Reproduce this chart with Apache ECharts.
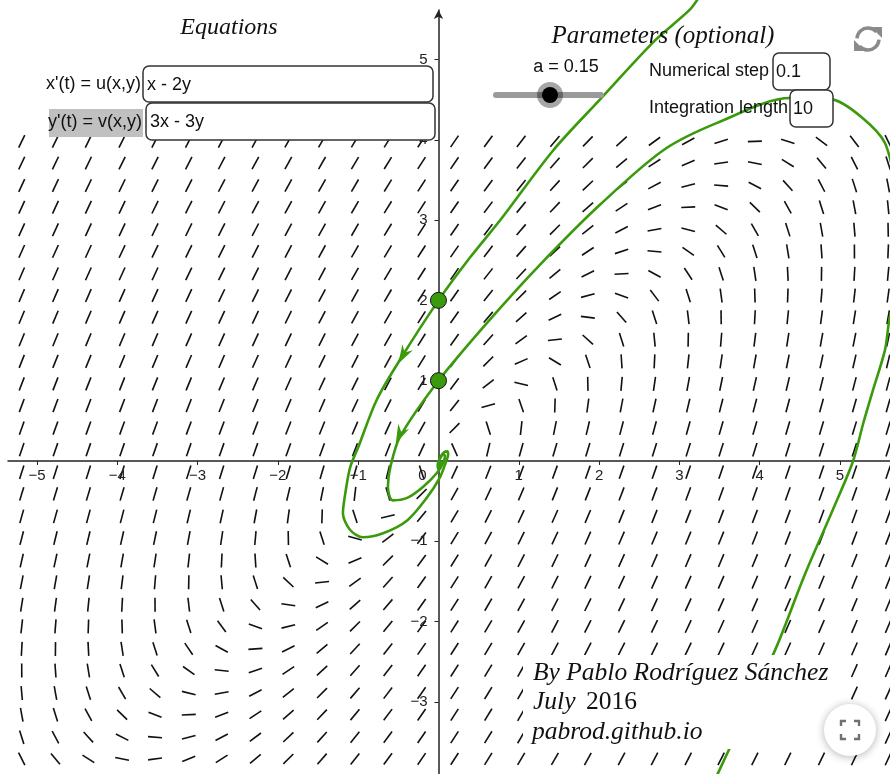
<!DOCTYPE html>
<html>
<head>
<meta charset="utf-8">
<script src="https://cdn.jsdelivr.net/npm/echarts@6/dist/echarts.min.js"></script>
<style>
html, body { margin: 0; padding: 0; background: #fff; }
#phase { width: 890px; height: 774px; }
</style>
</head>
<body>
<div id="phase"></div>
<script>
// grid of the slope field (where the little segments sit)
var fieldX = [-5.19, -4.77, -4.36, -3.94, -3.53, -3.11, -2.70, -2.28, -1.87, -1.45, -1.04, -0.63, -0.21,
    0.20, 0.62, 1.03, 1.45, 1.86, 2.28, 2.69, 3.11, 3.52, 3.94, 4.35, 4.77, 5.18, 5.60];
var fieldY = [3.98, 3.71, 3.43, 3.16, 2.88, 2.61, 2.33, 2.06, 1.79, 1.51, 1.24, 0.96, 0.69, 0.41, 0.14,
    -0.14, -0.41, -0.69, -0.96, -1.24, -1.51, -1.79, -2.06, -2.34, -2.61, -2.89, -3.16, -3.44, -3.71];

// the two equations typed in the boxes: x'(t) = x - 2y, y'(t) = 3x - 3y
function u(x, y) { return x - 2 * y; }
function v(x, y) { return 3 * x - 3 * y; }

// trajectory through (0, 2)
var orbitA = [[3.26, 5.80], [3.13, 5.62], [2.70, 5.24], [2.01, 4.50], [1.43, 3.87], [0.77, 3.00],
    [0.39, 2.53], [0, 2], [-0.48, 1.26], [-0.77, 0.76], [-1.00, 0.17], [-1.10, -0.08], [-1.16, -0.40],
    [-1.19, -0.65], [-1.10, -0.86], [-0.94, -0.95], [-0.69, -0.90], [-0.39, -0.74], [-0.14, -0.45],
    [0.02, -0.20], [0.09, -0.02], [0.12, 0.08], [0.11, 0.12], [0.07, 0.11], [0.02, 0.04],
    [-0.01, -0.05], [0.00, -0.10], [0.02, -0.08], [0.03, -0.03], [0.02, 0.00]];

// trajectory through (0, 1)
var orbitB = [[3.44, -3.97], [3.48, -3.89], [3.82, -3.16], [4.22, -2.29], [4.56, -1.42], [4.91, -0.61],
    [5.16, -0.01], [5.29, 0.47], [5.41, 0.88], [5.56, 1.38], [5.62, 1.79], [5.72, 2.13], [5.77, 2.75],
    [5.70, 3.38], [5.56, 3.96], [5.27, 4.28], [4.91, 4.50], [4.38, 4.52], [3.47, 4.21], [2.80, 3.87],
    [2.01, 3.19], [1.26, 2.44], [0.64, 1.76], [0, 1], [-0.48, 0.30], [-0.60, -0.08], [-0.63, -0.32],
    [-0.57, -0.49], [-0.39, -0.46], [-0.19, -0.32], [-0.02, -0.15], [0.06, -0.02], [0.08, 0.06],
    [0.06, 0.09], [0.03, 0.05], [0.00, -0.02], [0.01, -0.06], [0.02, -0.03], [0.01, 0.00]];

var startPoints = [[0, 2], [0, 1]];
// arrow heads: position and direction of travel
var arrowPoints = [[-0.44, 1.32, -0.50, -0.87], [-0.48, 0.33, -0.42, -0.91]];

var xTickValues = [-5, -4, -3, -2, -1, 1, 2, 3, 4, 5];
var yTickValues = [-3, -2, -1, 1, 2, 3, 4, 5];

var green = '#3a9a0c';

var fieldData = [];
fieldX.forEach(function (x) {
    fieldY.forEach(function (y) {
        fieldData.push([x, y]);
    });
});

// [x, y, text, dx, dy, align] for every axis number
var tickData = [];
xTickValues.forEach(function (t) { tickData.push([t, 0, t, 0, 15, 'center']); });
yTickValues.forEach(function (t) { tickData.push([0, t, t, -11, 0, 'right']); });
tickData.push([0, 0, 0, -16, 15, 'center']);

function minusSign(val) {
    return String(val).replace('-', '\u2212');
}

function label(x, y, text, font, align) {
    return {
        type: 'text', x: x, y: y, z: 101,
        style: {
            text: text, font: font, fill: '#111',
            align: align, verticalAlign: 'middle',
            textAlign: align, textVerticalAlign: 'middle'
        }
    };
}

function box(x, y, w, h) {
    return {
        type: 'rect', z: 100, shape: { x: x, y: y, width: w, height: h, r: 6 },
        style: { fill: '#fff', stroke: '#333', lineWidth: 1.5 }
    };
}

var sans = '18px "Liberation Sans"';
var serifIt = 'italic 24px "Liberation Serif"';
var creditIt = 'italic 25.5px "Liberation Serif"';

var chart = echarts.init(document.getElementById('phase'));

var option = {
    backgroundColor: '#fff',
    animation: false,
    grid: { left: 8, right: 0, top: 10, bottom: 0, outerBoundsMode: 'none', containLabel: false },
    xAxis: {
        type: 'value',
        min: -5.361,
        max: 5.623,
        axisLine: { onZero: true, lineStyle: { color: '#222', width: 1.5 } },
        axisTick: { customValues: xTickValues, length: 4, lineStyle: { color: '#222' } },
        axisLabel: { show: false },
        splitLine: { show: false }
    },
    yAxis: {
        type: 'value',
        min: -3.898,
        max: 5.616,
        axisLine: {
            onZero: true,
            symbol: ['none', 'arrow'],
            symbolSize: [7, 9],
            lineStyle: { color: '#222', width: 1.5 }
        },
        axisTick: { customValues: yTickValues, length: 4, lineStyle: { color: '#222' } },
        axisLabel: { show: false },
        splitLine: { show: false }
    },
    series: [
        {
            type: 'custom',
            data: fieldData,
            silent: true,
            renderItem: function (params, api) {
                var x = api.value(0), y = api.value(1);
                var p = api.coord([x, y]);
                var a = u(x, y), b = v(x, y);
                var n = Math.sqrt(a * a + b * b) || 1;
                var dx = a / n * 7, dy = -b / n * 7;
                return {
                    type: 'line',
                    shape: { x1: p[0] - dx, y1: p[1] - dy, x2: p[0] + dx, y2: p[1] + dy },
                    style: { stroke: '#111', lineWidth: 1.6 }
                };
            }
        },
        {
            type: 'custom',
            data: tickData,
            silent: true,
            z: 3,
            dimensions: ['x', 'y', 'text', 'dx', 'dy', 'align'],
            encode: { x: 0, y: 1 },
            renderItem: function (params, api) {
                var d = tickData[params.dataIndex];
                var p = api.coord([d[0], d[1]]);
                return {
                    type: 'text',
                    x: p[0] + d[3],
                    y: p[1] + d[4],
                    style: {
                        text: minusSign(d[2]),
                        fill: '#222',
                        font: '15px "Liberation Sans"',
                        align: d[5], verticalAlign: 'middle',
                        textAlign: d[5], textVerticalAlign: 'middle'
                    }
                };
            }
        },
        {
            type: 'line',
            data: orbitA,
            smooth: 0.3,
            showSymbol: false,
            clip: false,
            lineStyle: { color: green, width: 2.6 }
        },
        {
            type: 'line',
            data: orbitB,
            smooth: 0.3,
            showSymbol: false,
            clip: false,
            lineStyle: { color: green, width: 2.6 }
        },
        {
            type: 'custom',
            data: arrowPoints,
            silent: true,
            z: 4,
            renderItem: function (params, api) {
                var p = api.coord([api.value(0), api.value(1)]);
                var dx = api.value(2), dy = -api.value(3);
                var n = Math.sqrt(dx * dx + dy * dy);
                dx /= n; dy /= n;
                var nx = -dy, ny = dx;
                return {
                    type: 'polygon',
                    shape: {
                        points: [
                            [p[0] + dx * 10, p[1] + dy * 10],
                            [p[0] - dx * 9 + nx * 6, p[1] - dy * 9 + ny * 6],
                            [p[0] - dx * 3, p[1] - dy * 3],
                            [p[0] - dx * 9 - nx * 6, p[1] - dy * 9 - ny * 6]
                        ]
                    },
                    style: { fill: green }
                };
            }
        },
        {
            type: 'scatter',
            data: startPoints,
            symbolSize: 16,
            itemStyle: { color: green, borderColor: '#111', borderWidth: 1, opacity: 1 },
            z: 5
        }
    ],
    graphic: [
        // equations panel
        label(229, 28, 'Equations', serifIt, 'center'),
        label(141, 84, "x'(t) = u(x,y)", sans, 'right'),
        box(143, 66, 290, 36),
        label(147, 85, 'x - 2y', sans, 'left'),
        { type: 'rect', z: 100, shape: { x: 49, y: 109, width: 94, height: 28 }, style: { fill: '#c0c0c0' } },
        label(142, 122, "y'(t) = v(x,y)", sans, 'right'),
        box(146, 103, 289, 37),
        label(150, 122, '3x - 3y', sans, 'left'),

        // parameters panel
        label(663, 36, 'Parameters (optional)', 'italic 25px "Liberation Serif"', 'center'),
        label(566, 67, 'a = 0.15', sans, 'center'),
        { type: 'line', z: 100, shape: { x1: 496, y1: 95, x2: 601, y2: 95 },
          style: { stroke: '#9a9a9a', lineWidth: 6, lineCap: 'round' } },
        { type: 'circle', z: 101, shape: { cx: 550, cy: 95, r: 13 }, style: { fill: 'rgba(0,0,0,0.35)' } },
        { type: 'circle', z: 102, shape: { cx: 550, cy: 95, r: 8 }, style: { fill: '#000' } },
        label(769, 71, 'Numerical step', sans, 'right'),
        box(773, 53, 57, 37),
        label(776, 72, '0.1', sans, 'left'),
        label(788, 108, 'Integration length', sans, 'right'),
        box(790, 90, 43, 37),
        label(793, 109, '10', sans, 'left'),

        // reset icon
        { type: 'arc', z: 100, shape: { cx: 868, cy: 39, r: 11, startAngle: Math.PI * 1.02, endAngle: Math.PI * 1.78 },
          style: { stroke: '#8a8a8a', lineWidth: 3.5, fill: null } },
        { type: 'arc', z: 100, shape: { cx: 868, cy: 39, r: 11, startAngle: Math.PI * 0.02, endAngle: Math.PI * 0.78 },
          style: { stroke: '#8a8a8a', lineWidth: 3.5, fill: null } },
        { type: 'polygon', z: 100, shape: { points: [[871, 27], [882, 27], [882, 38]] }, style: { fill: '#8a8a8a' } },
        { type: 'polygon', z: 100, shape: { points: [[865, 51], [854, 51], [854, 40]] }, style: { fill: '#8a8a8a' } },

        // credits
        { type: 'rect', z: 90, shape: { x: 523, y: 655, width: 314, height: 94 }, style: { fill: '#fff' } },
        label(533, 673, 'By Pablo Rodr\u00edguez S\u00e1nchez', creditIt, 'left'),
        label(533, 702, 'July', creditIt, 'left'),
        label(586, 702, '2016', '25.5px "Liberation Serif"', 'left'),
        label(532, 732, 'pabrod.github.io', creditIt, 'left'),

        // fullscreen button
        { type: 'circle', z: 100, shape: { cx: 850, cy: 730, r: 26 },
          style: { fill: '#fff', shadowBlur: 8, shadowColor: 'rgba(0,0,0,0.3)', shadowOffsetY: 1 } },
        { type: 'polyline', z: 101, shape: { points: [[841, 726], [841, 721], [846, 721]] }, style: { stroke: '#707070', lineWidth: 2.4, fill: null } },
        { type: 'polyline', z: 101, shape: { points: [[854, 721], [859, 721], [859, 726]] }, style: { stroke: '#707070', lineWidth: 2.4, fill: null } },
        { type: 'polyline', z: 101, shape: { points: [[841, 734], [841, 739], [846, 739]] }, style: { stroke: '#707070', lineWidth: 2.4, fill: null } },
        { type: 'polyline', z: 101, shape: { points: [[854, 739], [859, 739], [859, 734]] }, style: { stroke: '#707070', lineWidth: 2.4, fill: null } }
    ]
};

chart.setOption(option);
</script>
</body>
</html>
